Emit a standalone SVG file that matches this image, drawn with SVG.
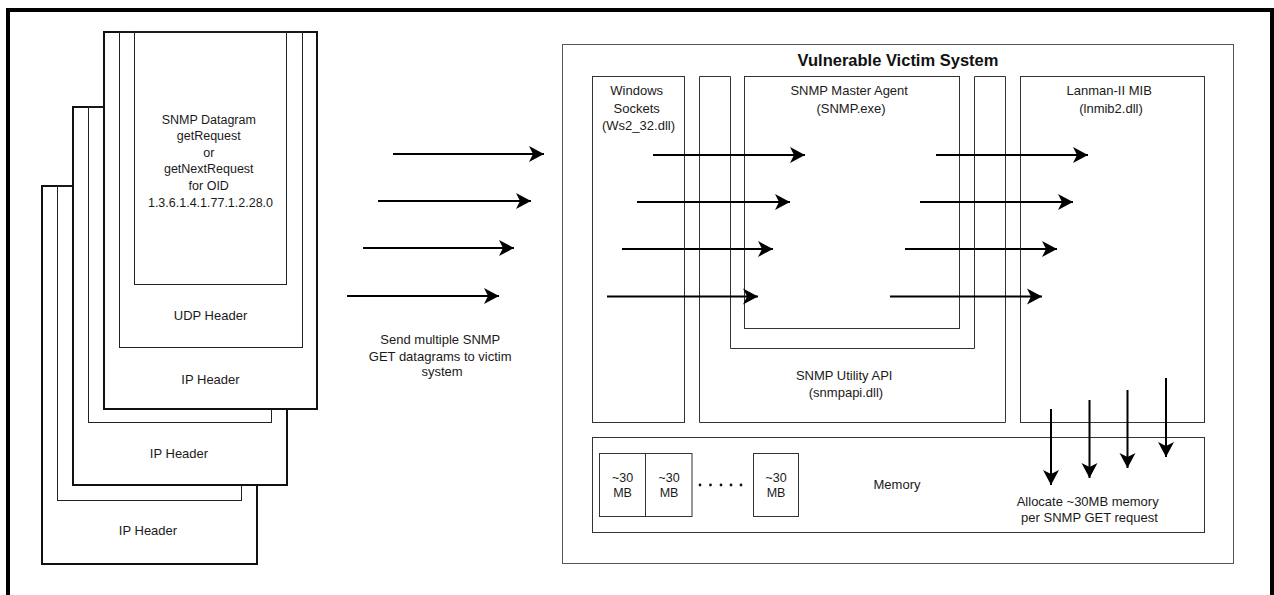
<svg xmlns="http://www.w3.org/2000/svg" width="1274" height="595" viewBox="0 0 1274 595">
  <defs>
    <style>
      .txt { font-family: "Liberation Sans", Arial, sans-serif; font-size: 13px; fill: #1a1a1a; text-anchor: middle; }
      .small { font-size: 12.5px; }
      .title { font-weight: bold; font-size: 16.5px; fill: #111; }
      .pkt { fill: #fff; stroke: #111; stroke-width: 2; }
      .thin { fill: none; stroke: #222; stroke-width: 1; }
      .box { fill: #fff; stroke: #333; stroke-width: 1; }
      .sys { fill: #fff; stroke: #555; stroke-width: 1; }
      .flow { fill: none; stroke: #000; stroke-width: 2; marker-end: url(#head); }
    </style>
    <marker id="head" markerUnits="userSpaceOnUse" markerWidth="17" markerHeight="18" viewBox="-16 -9 17 18" refX="0" refY="0" orient="auto" overflow="visible">
      <path d="M0,0 L-15,-8 L-11,0 L-15,8 Z" fill="#000"/>
    </marker>
  </defs>

  <rect width="1274" height="595" fill="#fff"/>
  <!-- page frame -->
  <rect x="8" y="10" width="1264" height="600" fill="none" stroke="#000" stroke-width="4"/>

  <!-- stacked datagrams, back to front -->
  <g id="packet-back">
    <rect class="pkt" x="42" y="186" width="215" height="378"/>
    <rect class="thin" x="57.5" y="186" width="184" height="314.5"/>
    <text class="txt" x="148" y="535">IP Header</text>
  </g>
  <g id="packet-middle">
    <rect class="pkt" x="73" y="107" width="214" height="378"/>
    <rect class="thin" x="88.5" y="107" width="183" height="315.5"/>
    <text class="txt" x="179" y="458">IP Header</text>
  </g>
  <g id="packet-front">
    <rect class="pkt" x="104" y="32" width="213" height="377"/>
    <rect class="thin" x="119.5" y="32" width="183" height="315.5"/>
    <rect class="thin" x="134.5" y="32" width="152" height="252.5"/>
    <text class="txt small" x="210.5">
      <tspan x="210.5" y="123.5">SNMP Datagram</tspan>
      <tspan x="210.5" y="140">getRequest</tspan>
      <tspan x="210.5" y="156.5">or</tspan>
      <tspan x="210.5" y="173">getNextRequest</tspan>
      <tspan x="210.5" y="190">for OID</tspan>
      <tspan x="210.5" y="206.5">1.3.6.1.4.1.77.1.2.28.0</tspan>
    </text>
    <text class="txt" x="210.5" y="320">UDP Header</text>
    <text class="txt" x="210.5" y="383.5">IP Header</text>
  </g>

  <g id="send-label">
    <text class="txt" x="442">
      <tspan x="442" y="344">Send multiple SNMP</tspan>
      <tspan x="442" y="360.5">GET datagrams to victim</tspan>
      <tspan x="442" y="376">system</tspan>
    </text>
  </g>

  <!-- victim host -->
  <g id="victim-system">
    <rect class="sys" x="562.5" y="44.5" width="671" height="519"/>
    <text class="txt title" x="898" y="66">Vulnerable Victim System</text>
  </g>
  <g id="windows-sockets">
    <rect class="box" x="592.5" y="76.5" width="92" height="346"/>
    <text class="txt">
      <tspan x="638.5" y="95">Windows</tspan>
      <tspan x="638.5" y="112.5">Sockets</tspan>
      <tspan x="638.5" y="129.5">(Ws2_32.dll)</tspan>
    </text>
  </g>
  <g id="snmp-utility-api">
    <path class="box" d="M699.5,76.5 H730.5 V348.5 H974.5 V76.5 H1005.5 V422.5 H699.5 Z"/>
    <text class="txt">
      <tspan x="846" y="380">SNMP Utility API</tspan>
      <tspan x="846" y="397">(snmpapi.dll)</tspan>
    </text>
  </g>
  <g id="snmp-master-agent">
    <rect class="box" x="744.5" y="76.5" width="215" height="252"/>
    <text class="txt">
      <tspan x="851" y="95">SNMP Master Agent</tspan>
      <tspan x="851" y="112.5">(SNMP.exe)</tspan>
    </text>
  </g>
  <g id="lanman-mib">
    <rect class="box" x="1020.5" y="76.5" width="184" height="346"/>
    <text class="txt">
      <tspan x="1111" y="95">Lanman-II MIB</tspan>
      <tspan x="1111" y="112.5">(lnmib2.dll)</tspan>
    </text>
  </g>
  <g id="memory">
    <rect class="box" x="592.5" y="437.5" width="612" height="95"/>
    <text class="txt" x="897" y="489">Memory</text>
    <text class="txt">
      <tspan x="1089.5" y="506">Allocate ~30MB memory</tspan>
      <tspan x="1089.5" y="521.5">per SNMP GET request</tspan>
    </text>
  </g>
  <g id="block-1">
    <rect class="box" x="599.5" y="453.5" width="46" height="63"/>
    <text class="txt small"><tspan x="622.5" y="482">~30</tspan><tspan x="622.5" y="496.5">MB</tspan></text>
  </g>
  <g id="block-2">
    <rect class="box" x="645.5" y="453.5" width="46.5" height="63"/>
    <text class="txt small"><tspan x="669" y="482">~30</tspan><tspan x="669" y="496.5">MB</tspan></text>
  </g>
  <g id="block-ellipsis" fill="#111">
    <circle cx="700" cy="485" r="1.4"/>
    <circle cx="710.5" cy="485" r="1.4"/>
    <circle cx="721" cy="485" r="1.4"/>
    <circle cx="731" cy="485" r="1.4"/>
    <circle cx="741" cy="485" r="1.4"/>
  </g>
  <g id="block-n">
    <rect class="box" x="753.5" y="453.5" width="45" height="63"/>
    <text class="txt small"><tspan x="776" y="482">~30</tspan><tspan x="776" y="496.5">MB</tspan></text>
  </g>

  <g id="connectors">
    <!-- datagrams sent to the host -->
    <path class="flow" d="M393,154 H544"/>
    <path class="flow" d="M378,201 H531"/>
    <path class="flow" d="M363,248 H514"/>
    <path class="flow" d="M347,296 H499"/>
    <!-- sockets to master agent -->
    <path class="flow" d="M653,155 H805"/>
    <path class="flow" d="M637,202 H790"/>
    <path class="flow" d="M622,249 H773"/>
    <path class="flow" d="M607,296.5 H758"/>
    <!-- master agent to Lanman MIB -->
    <path class="flow" d="M936,155 H1088"/>
    <path class="flow" d="M920,202 H1073"/>
    <path class="flow" d="M905,249 H1057"/>
    <path class="flow" d="M890,296.5 H1042"/>
    <!-- allocations into memory -->
    <path class="flow" d="M1051,409 V485"/>
    <path class="flow" d="M1089.5,400 V478"/>
    <path class="flow" d="M1127.5,390 V468"/>
    <path class="flow" d="M1166,378 V457"/>
  </g>
</svg>
